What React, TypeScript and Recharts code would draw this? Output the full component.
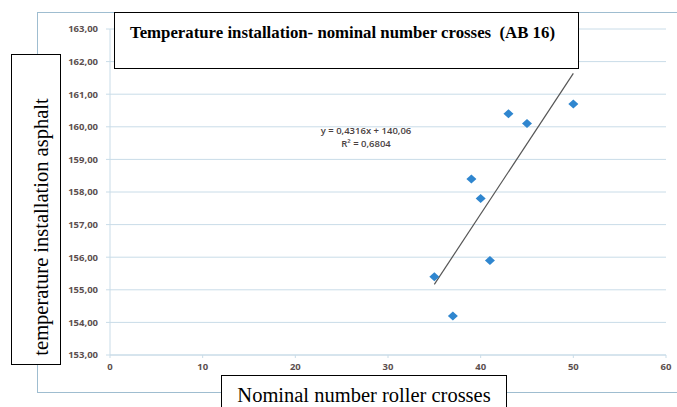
import React from 'react';
import { ScatterChart, Scatter, XAxis, YAxis, CartesianGrid, ReferenceLine } from 'recharts';

const crosses = [35, 37, 39, 40, 41, 43, 45, 50];
const temps = [155.4, 154.2, 158.4, 157.8, 155.9, 160.4, 160.1, 160.7];
const xTicks = [0, 10, 20, 30, 40, 50, 60];
const yTicks = [153, 154, 155, 156, 157, 158, 159, 160, 161, 162, 163];

// trendline from the equation shown on the chart
const slope = 0.4316;
const intercept = 140.06;
const trendX = [35, 50];

const points = crosses.map((x, i) => ({ x, y: temps[i] }));

const Diamond = (props: any) => {
  const { cx, cy } = props;
  return (
    <polygon
      points={`${cx - 5},${cy} ${cx},${cy - 4.5} ${cx + 5},${cy} ${cx},${cy + 4.5}`}
      fill="#2f86cf"
    />
  );
};

const fmt = (v: number) => v.toFixed(2).replace('.', ',');

const box: React.CSSProperties = {
  position: 'absolute',
  background: '#fff',
  border: '1.5px solid #000',
  boxSizing: 'border-box',
  fontFamily: '"Liberation Serif", "Times New Roman", serif',
  color: '#000',
};

const tickStyle = { fontSize: 9.5, fontWeight: 700, fill: '#5c4f4f', fontFamily: '"Open Sans", sans-serif' };

const App = () => {
  return (
    <div style={{ position: 'absolute', left: 0, top: 0, width: 677, height: 407, background: '#fff', overflow: 'hidden' }}>
      <div
        style={{
          position: 'absolute',
          left: 37,
          top: 12,
          width: 650,
          height: 381,
          border: '1.5px solid #9fbdd0',
          boxSizing: 'border-box',
        }}
      />
      <ScatterChart
        width={677}
        height={407}
        margin={{ top: 29, right: 11, bottom: 32, left: 70 }}
        style={{ position: 'absolute', left: 0, top: 0 }}
      >
        <CartesianGrid horizontal vertical={false} stroke="#c9dce8" />
        <XAxis
          type="number"
          dataKey="x"
          domain={[0, 60]}
          ticks={xTicks}
          axisLine={{ stroke: '#c9dce8' }}
          tickLine={{ stroke: '#c9dce8' }}
          tickSize={3}
          tickMargin={5}
          tick={tickStyle}
          height={20}
        />
        <YAxis
          type="number"
          dataKey="y"
          domain={[153, 163]}
          ticks={yTicks}
          tickFormatter={fmt}
          axisLine={{ stroke: '#c9dce8' }}
          tickLine={{ stroke: '#c9dce8' }}
          tickSize={4}
          tickMargin={8}
          tick={tickStyle}
          width={40}
        />
        <ReferenceLine
          segment={trendX.map((x) => ({ x, y: slope * x + intercept }))}
          stroke="#555"
          strokeWidth={1.2}
        />
        <Scatter data={points} shape={<Diamond />} isAnimationActive={false} />
      </ScatterChart>

      <div
        style={{
          position: 'absolute',
          left: 310,
          top: 124,
          width: 140,
          fontFamily: '"Open Sans", sans-serif',
          fontSize: 9.5,
          fontWeight: 600,
          color: '#4a3f3f',
          lineHeight: '13px',
          textAlign: 'center',
        }}
      >
        <div style={{ marginLeft: -28 }}>y = 0,4316x + 140,06</div>
        <div style={{ marginLeft: -28 }}>R² = 0,6804</div>
      </div>

      <div style={{ ...box, left: 114, top: 12, width: 465, height: 57 }}>
        <div style={{ position: 'absolute', left: 15, top: 10, fontSize: 16.8, fontWeight: 700, whiteSpace: 'nowrap' }}>
          Temperature installation- nominal number crosses&nbsp; (AB 16)
        </div>
      </div>

      <div style={{ ...box, left: 11, top: 54, width: 50, height: 311 }}>
        <div
          style={{
            position: 'absolute',
            left: 29,
            top: 172,
            transform: 'translate(-50%, -50%) rotate(-90deg)',
            fontSize: 20.5,
            whiteSpace: 'nowrap',
          }}
        >
          temperature installation asphalt
        </div>
      </div>

      <div style={{ ...box, left: 221, top: 375, width: 286, height: 40 }}>
        <div style={{ position: 'absolute', left: 0, right: 0, top: 8, textAlign: 'center', fontSize: 20.5, whiteSpace: 'nowrap' }}>
          Nominal number roller crosses
        </div>
      </div>
    </div>
  );
};

export default App;
